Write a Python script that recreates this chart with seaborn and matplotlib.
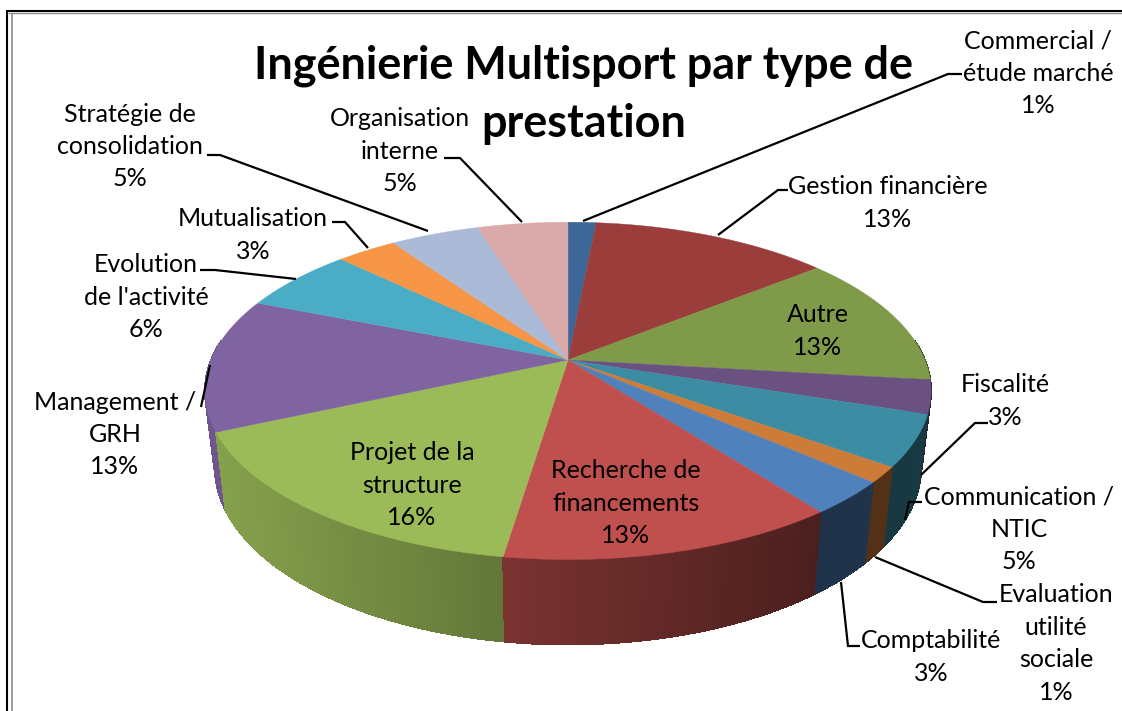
import numpy as np
import matplotlib
matplotlib.use("Agg")
import matplotlib.pyplot as plt
import seaborn as sns

sns.set_theme(style="white")
plt.rcParams['font.family'] = ['Lato', 'DejaVu Sans']

title = "Ingénierie Multisport par type de\nprestation"
categories = ["Commercial /\nétude marché", "Gestion financière", "Autre", "Fiscalité",
              "Communication /\nNTIC", "Evaluation\nutilité\nsociale", "Comptabilité",
              "Recherche de\nfinancements", "Projet de la\nstructure", "Management /\nGRH",
              "Evolution\nde l'activité", "Mutualisation", "Stratégie de\nconsolidation",
              "Organisation\ninterne"]
shares = [1.49, 12.7, 12.7, 3.2, 4.9, 1.49, 3.2, 12.7, 15.9, 12.8, 6.2, 3.2, 4.7, 4.82]
colors = ["#3c6797", "#9a3d3b", "#7f9b4a", "#6b5082", "#3c8da3", "#cc7b38", "#4f81bd",
          "#c0504d", "#9bbb59", "#8064a2", "#4bacc6", "#f79646", "#aabad7", "#d9aaa9"]

# label layout: centre x, y of first line centre
label_xy = [(1038, 41), (888, 187), (818, 315), (1005, 385), (1019, 497), (1056, 595),
            (931, 641), (626, 471), (412, 453), (115, 402), (146, 265), (253, 219),
            (130, 114), (400, 119)]
leaders = [[(583, 221), (948, 74), (962, 74)], [(718, 235), (778, 190), (788, 190)],
           None, [(921, 475), (975, 423), (988, 423)], [(905, 520), (909, 502), (922, 502)],
           [(875, 557), (983, 602), (997, 602)], [(841, 582), (848, 646), (860, 646)],
           None, None, [(201, 407), (210, 365)], [(296, 279), (215, 270), (200, 270)],
           [(368, 248), (345, 222), (332, 222)], [(428, 231), (220, 155), (207, 155)],
           [(522, 222), (460, 158), (444, 158)]]

CX, CY, RX, RY, K = 568.0, 360.0, 357.0, 163.0, 0.183
LINE = 32.4


def top_xy(theta):
    u, v = np.sin(theta), np.cos(theta)
    d = 1 + K * v
    return CX + RX * u / d, CY - RY * v / d


def bottom_xy(x, y):
    return CX + (x - CX) * 0.973, 1.055 * y + 54.3


def shade(x):
    return np.interp(x, [205, 820, 930], [0.87, 0.39, 0.41])


fig = plt.figure(figsize=(11.22, 7.11), dpi=100, facecolor="white")
ax = fig.add_axes([0, 0, 1, 1])
ax.set_xlim(0, 1122)
ax.set_ylim(711, 0)
ax.axis("off")

palette = sns.color_palette(colors)
total = sum(shares)
edges = 2 * np.pi * np.cumsum([0] + shares) / total

# side wall, painted from the back to the front
strips = []
for i, rgb in enumerate(palette):
    n = max(2, int((edges[i + 1] - edges[i]) / 0.006))
    th = np.linspace(edges[i], edges[i + 1], n + 1)
    x, y = top_xy(th)
    xb, yb = bottom_xy(x, y)
    for j in range(n):
        if y[j] + y[j + 1] < 2 * CY - 40:
            continue
        strips.append(((y[j] + y[j + 1]) / 2, [x[j], x[j + 1], xb[j + 1], xb[j]],
                       [y[j], y[j + 1], yb[j + 1], yb[j]], rgb, (x[j] + x[j + 1]) / 2))
for _, xs, ys, rgb, xm in sorted(strips, key=lambda s: s[0]):
    c = tuple(np.array(rgb) * shade(xm))
    ax.fill(xs, ys, facecolor=c, edgecolor=c, lw=0.5, zorder=2, antialiased=False)

# top face
for i, rgb in enumerate(palette):
    th = np.linspace(edges[i], edges[i + 1], 120)
    x, y = top_xy(th)
    ax.fill(np.r_[CX, x], np.r_[CY, y], color=rgb, lw=0.3, zorder=3)

# leader lines
for pts in leaders:
    if pts:
        xs, ys = zip(*pts)
        ax.plot(xs, ys, color="black", lw=1.6, zorder=4, solid_capstyle="butt", solid_joinstyle="miter")

# labels
for name, s, (lx, ly) in zip(categories, shares, label_xy):
    lines = name.split("\n") + [f"{round(100 * s / total)}%"]
    for k, t in enumerate(lines):
        ax.text(lx, ly + k * LINE, t, ha="center", va="center", fontsize=18, color="black", zorder=5)

for k, t in enumerate(title.split("\n")):
    ax.text(584, 66 + k * 58, t, ha="center", va="center", fontsize=32.4, fontweight="bold", color="black", zorder=6)

# frame of the pasted picture
ax.plot([7, 7], [711, 10.5], color="black", lw=1.5, zorder=7, solid_capstyle="butt")
ax.plot([6, 1122], [10.5, 10.5], color="black", lw=1.5, zorder=7, solid_capstyle="butt")
ax.plot([12, 12], [711, 12.7], color="#8c8c8c", lw=1.2, zorder=7, solid_capstyle="butt")
ax.plot([8, 1122], [12.7, 12.7], color="#8c8c8c", lw=1.0, zorder=7, solid_capstyle="butt")

fig.savefig("out.png", dpi=100, facecolor="white")
